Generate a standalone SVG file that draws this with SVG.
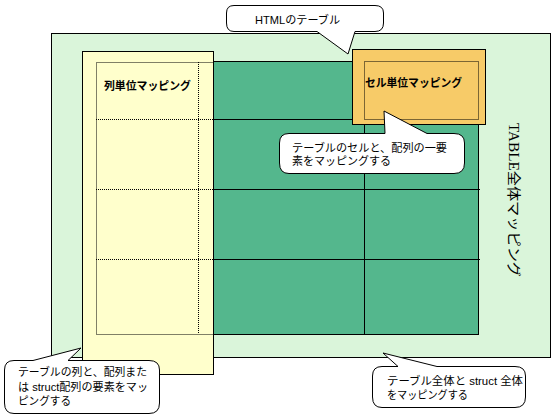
<svg xmlns="http://www.w3.org/2000/svg" width="553" height="418" viewBox="0 0 553 418">
<style>
.box{stroke:#000;stroke-width:1}
.dot{fill:none;stroke:#000;stroke-width:1;stroke-dasharray:1 1}
.ln{stroke:#000;stroke-width:1}
.call{fill:#fff;stroke:#000;stroke-width:1}
.t{font-family:"Liberation Sans","Noto Sans CJK JP",sans-serif;font-size:11px;fill:#000}
.b{font-family:"Noto Sans CJK JP",sans-serif;font-size:11.5px;font-weight:bold;fill:#000}
</style>
<rect width="553" height="418" fill="#fff"/>
<g id="table-whole">
<rect class="box" x="51.5" y="33.5" width="499" height="324" fill="#daf5da"/>
<text transform="translate(509,123) rotate(90)" font-family="'Liberation Serif','Noto Sans CJK JP',serif" font-size="14" textLength="154" lengthAdjust="spacingAndGlyphs">TABLE全体マッピング</text>
</g>
<g id="html-grid">
<rect class="box" x="213.5" y="61.5" width="265" height="273" fill="#54b78d"/>
<line class="ln" x1="213" y1="119.5" x2="480" y2="119.5"/>
<line class="ln" x1="213" y1="189.5" x2="480" y2="189.5"/>
<line class="ln" x1="213" y1="259.5" x2="480" y2="259.5"/>
<line class="ln" x1="364.5" y1="61" x2="364.5" y2="334"/>
</g>
<g id="column-mapping">
<rect class="box" x="82.5" y="51.5" width="131" height="323" fill="#ffffcc"/>
<rect class="dot" x="96.5" y="62.5" width="117" height="272"/>
<line class="dot" x1="96" y1="119.5" x2="213" y2="119.5"/>
<line class="dot" x1="96" y1="189.5" x2="213" y2="189.5"/>
<line class="dot" x1="96" y1="259.5" x2="213" y2="259.5"/>
<line class="dot" x1="198.5" y1="62" x2="198.5" y2="334"/>
<text class="b" x="104" y="90" textLength="87" lengthAdjust="spacingAndGlyphs">列単位マッピング</text>
</g>
<g id="cell-mapping">
<rect class="box" x="352.5" y="49.5" width="133" height="75" fill="#f7cb68"/>
<rect class="dot" x="364.5" y="61.5" width="114" height="58"/>
<text class="b" x="365" y="87" textLength="97" lengthAdjust="spacingAndGlyphs">セル単位マッピング</text>
</g>
<g id="connectors"></g>
<g id="callout-html">
<path class="call" d="M234,5.5 H375 Q383.5,5.5 383.5,13 V23 Q383.5,31.5 375,31.5 H355 L348,54 L317,31.5 H234 Q226.5,31.5 226.5,23 V13 Q226.5,5.5 234,5.5 Z"/>
<text class="t" x="255" y="24" font-size="12" textLength="85" lengthAdjust="spacingAndGlyphs">HTMLのテーブル</text>
</g>
<g id="callout-cell">
<path class="call" d="M289,133.5 H385 L384,111 L427,133.5 H454 Q464.5,133.5 464.5,143 V163 Q464.5,173.5 454,173.5 H289 Q279.5,173.5 279.5,163 V143 Q279.5,133.5 289,133.5 Z"/>
<text class="t" x="292" y="152" textLength="155" lengthAdjust="spacingAndGlyphs">テーブルのセルと、配列の一要</text>
<text class="t" x="292" y="165" textLength="99" lengthAdjust="spacingAndGlyphs">素をマッピングする</text>
</g>
<g id="callout-column">
<path class="call" d="M14,360.5 H33 L81,348 L68,360.5 H149 Q159.5,360.5 159.5,370 V403 Q159.5,413.5 149,413.5 H14 Q4.5,413.5 4.5,403 V370 Q4.5,360.5 14,360.5 Z"/>
<text class="t" x="18" y="376" textLength="129" lengthAdjust="spacingAndGlyphs">テーブルの列と、配列また</text>
<text class="t" x="18" y="391" textLength="130" lengthAdjust="spacingAndGlyphs">は struct配列の要素をマッ</text>
<text class="t" x="18" y="405" textLength="53" lengthAdjust="spacingAndGlyphs">ピングする</text>
</g>
<g id="callout-whole">
<path class="call" d="M382,366.5 H398 L383,353 L437,366.5 H515 Q525.5,366.5 525.5,376 V397 Q525.5,407.5 515,407.5 H382 Q372.5,407.5 372.5,397 V376 Q372.5,366.5 382,366.5 Z"/>
<text class="t" x="387" y="385" textLength="136" lengthAdjust="spacingAndGlyphs">テーブル全体と struct 全体</text>
<text class="t" x="387" y="399" textLength="81" lengthAdjust="spacingAndGlyphs">をマッピングする</text>
</g>
</svg>
